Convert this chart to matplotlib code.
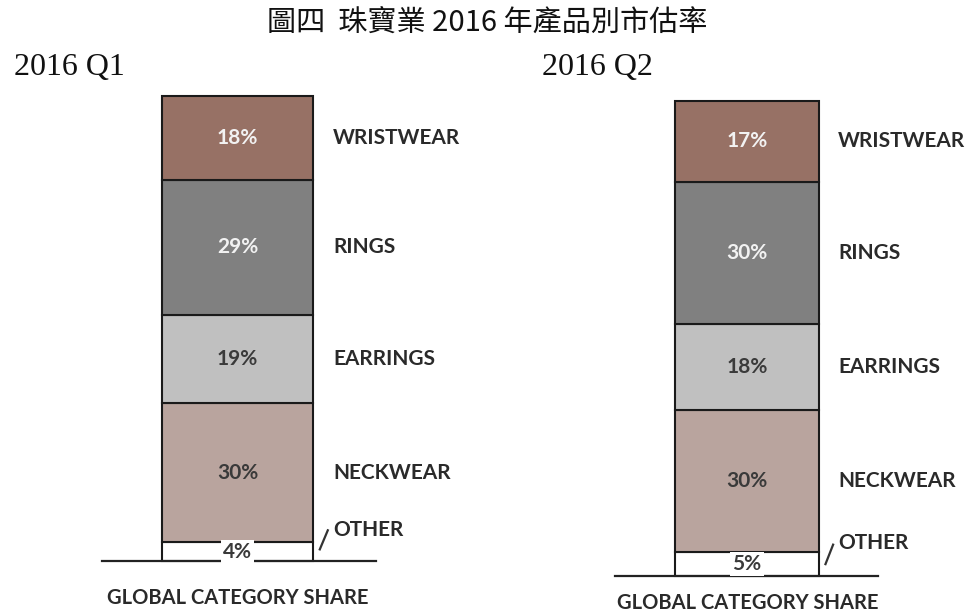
import matplotlib
matplotlib.use("Agg")
import matplotlib.pyplot as plt
import matplotlib.transforms as mtransforms
from matplotlib.lines import Line2D

# ---------------- data ----------------
title = "圖四  珠寶業 2016 年產品別市估率"
panel_titles = ["2016 Q1", "2016 Q2"]
categories = ["OTHER", "NECKWEAR", "EARRINGS", "RINGS", "WRISTWEAR"]  # bottom -> top
q1_share = [4, 30, 19, 29, 18]
q2_share = [5, 30, 18, 30, 17]
footer = "GLOBAL CATEGORY SHARE"

colors = ["#ffffff", "#b9a49e", "#c0c0c0", "#808080", "#977165"]
pct_colors = ["#3a3a3a", "#3a3a3a", "#3a3a3a", "#f2f2f2", "#f2f2f2"]

W, H = 974, 614
fig = plt.figure(figsize=(W / 100, H / 100), dpi=100)
fig.patch.set_facecolor("white")

LABEL_FONT = ["Lato", "DejaVu Sans"]

# axes placement in pixels: (left, right, top, bottom)
panels = [
    dict(values=q1_share, box=(162, 313, 96, 561), base=(-0.397, 1.417),
         head=(14, 75), foot=(107, 598), other_off=9),
    dict(values=q2_share, box=(675, 819, 101, 576), base=(-0.417, 1.41),
         head=(542, 75), foot=(617, 603), other_off=7),
]

fig.text(0.5, 1 - 23 / H, title, ha="center", va="center", fontsize=21,
         family=["Noto Sans CJK TC", "DejaVu Sans"], color="#111111")

for p, ptitle in zip(panels, panel_titles):
    l, r, t, b = p["box"]
    ax = fig.add_axes([l / W, (H - b) / H, (r - l) / W, (b - t) / H])
    ax.set_xlim(0, 1)
    ax.set_ylim(0, 100)
    ax.axis("off")

    vals = p["values"]
    bottoms = [sum(vals[:i]) for i in range(len(vals))]
    ax.bar([0.5] * len(vals), vals, width=1.0, bottom=bottoms, color=colors,
           edgecolor="#1a1a1a", linewidth=1.5, clip_on=False, zorder=2)

    trans = mtransforms.blended_transform_factory(ax.transAxes, ax.transData)
    # baseline
    ax.add_line(Line2D(list(p["base"]), [0, 0], transform=trans, color="#222222",
                       linewidth=1.6, clip_on=False, zorder=3))

    for i, (cat, v, bt) in enumerate(zip(categories, vals, bottoms)):
        yc = bt + v / 2
        bbox = None
        if cat == "OTHER":
            bbox = dict(facecolor="white", edgecolor="none", pad=1.5)
        ax.text(0.5, yc, f"{v}%", ha="center", va="center", fontsize=15,
                fontweight="bold", family=LABEL_FONT, color=pct_colors[i],
                zorder=5, bbox=bbox, clip_on=False)
        if cat == "OTHER":
            ax.annotate(cat, xy=(1.132, bt + v), xycoords=trans,
                        xytext=(0, p["other_off"]), textcoords="offset points",
                        ha="left", va="center", fontsize=15, fontweight="bold",
                        family=LABEL_FONT, color="#2a2a2a", annotation_clip=False)
            ax.add_line(Line2D([1.045, 1.098], [2.5, 6.6], transform=trans,
                               color="#333333", linewidth=1.6, clip_on=False))
        else:
            ax.text(1.132, yc, cat, transform=trans, ha="left", va="center",
                    fontsize=15, fontweight="bold", family=LABEL_FONT,
                    color="#2a2a2a", clip_on=False)

    fig.text(p["head"][0] / W, 1 - p["head"][1] / H, ptitle, ha="left",
             va="baseline", fontsize=23, family=["Liberation Serif", "DejaVu Serif"],
             color="#111111")
    fig.text(p["foot"][0] / W, 1 - p["foot"][1] / H, footer, ha="left",
             va="center", fontsize=14.5, fontweight="bold", family=LABEL_FONT,
             color="#2a2a2a")

fig.savefig("out.png", dpi=100, facecolor="white")
